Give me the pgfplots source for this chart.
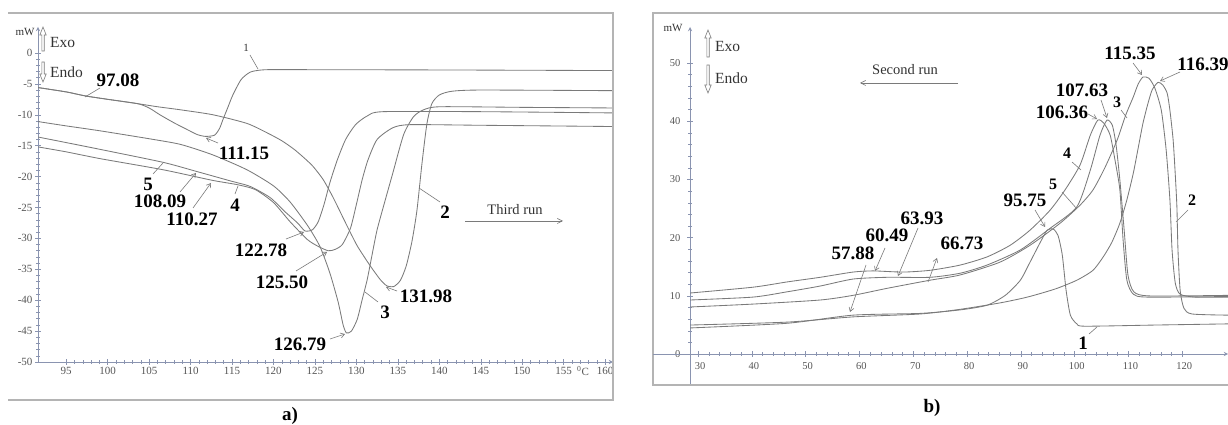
\documentclass[border=0pt]{standalone}
\usepackage{fontspec}
\setmainfont{Liberation Serif}
\usepackage{pgfplots}
\pgfplotsset{compat=1.18}
\usetikzlibrary{arrows.meta}
\definecolor{curve}{HTML}{7a7a7a}
\definecolor{axisc}{HTML}{8a94b0}
\definecolor{framec}{HTML}{b4b4b4}
\definecolor{tickc}{HTML}{555555}
\definecolor{txtc}{HTML}{333333}
\pgfplotsset{
 dscaxis/.style={scale only axis,
  axis line style={axisc,line width=0.9pt,-},
  tick style={axisc,line width=0.5pt},
  tick align=center, major tick length=6pt, minor tick length=3.5pt,
  minor x tick num=4, minor y tick num=4,
  tick label style={font=\fontsize{11}{12}\selectfont, text=tickc},
  /pgf/number format/assume math mode=true,
  every axis plot post/.append style={color=curve, line width=0.85pt, smooth, tension=0.4, mark=none}},
}
\tikzset{
 lb/.style={font=\fontsize{19}{20}\selectfont\bfseries, text=black, inner sep=0pt},
 lbs/.style={font=\fontsize{16}{17}\selectfont\bfseries, text=black, inner sep=0pt},
 ld/.style={draw=curve, line width=0.6pt},
 ldA/.style={draw=curve, line width=0.6pt, -{Straight Barb[length=4pt,width=5pt]}},
 tx/.style={text=txtc, inner sep=0pt},
}
\begin{document}
\begin{tikzpicture}[x=1pt,y=1pt]
% ---------- panel a
\begin{axis}[dscaxis, at={(38pt,63pt)}, anchor=south west,
  width=575pt, height=335pt,
  xmin=91.6, xmax=160.95, ymin=-50, ymax=4.2,
  axis x line=bottom, axis y line=left,
  xtick={95,100,...,160}, ytick={-50,-45,...,0},
  xticklabel style={yshift=1pt}, yticklabel style={xshift=1pt}]
\addplot coordinates {(91.6,-5.6) (95,-6.3) (97.3,-6.95) (100,-7.5) (103.6,-8.2) (105,-8.9) (106.3,-10.0) (108,-11.3) (109.6,-12.4) (110.8,-13.2) (111.8,-13.5) (112.9,-13.3) (113.5,-12.2) (113.9,-10.8) (114.5,-8.8) (115.1,-6.8) (116.1,-4.3) (117.2,-3.1) (118.6,-2.75) (121,-2.7) (140,-2.75) (160.9,-2.85)};
\addplot coordinates {(91.6,-5.6) (95,-6.3) (97.3,-6.95) (100,-7.5) (103.6,-8.2) (106,-8.7) (108.8,-9.2) (112.7,-10.0) (116.8,-11.4) (119.2,-12.9) (121,-14.2) (122.5,-15.6) (123.8,-17.1) (124.8,-18.4) (126,-20.5) (127.2,-23.4) (128.7,-27.5) (130.1,-31.2) (131.7,-34.5) (132.9,-36.7) (133.7,-37.7) (134.5,-37.8) (135.3,-36.8) (136.0,-34.5) (136.7,-30.5) (137.3,-25.5) (137.9,-18) (138.5,-11.5) (139.1,-8.2) (140,-6.8) (141.5,-6.2) (145,-6.0) (160.9,-6.1)};
\addplot coordinates {(91.6,-11.1) (95,-11.8) (99.1,-12.6) (105.1,-13.9) (108.8,-14.8) (112.7,-16.5) (116.8,-18.9) (120,-21.5) (122,-24.1) (124.1,-27.9) (125.6,-31.3) (126.8,-35.6) (127.8,-40.3) (128.4,-44.0) (128.8,-45.3) (129.4,-45.0) (130.1,-43.1) (130.7,-39.9) (131.3,-36.7) (131.9,-32.6) (132.5,-28.6) (133.5,-23.7) (134.4,-19.4) (135.7,-13.2) (136.9,-10.3) (138.1,-9.2) (140.1,-8.7) (150,-8.8) (160.9,-8.9)};
\addplot coordinates {(91.6,-15.2) (95,-16.0) (99.1,-17.1) (106.7,-18.9) (112.6,-20.6) (115.6,-21.3) (117.8,-22.1) (120,-24.2) (122,-27.3) (124.1,-30.2) (125.4,-31.3) (126.6,-32.0) (127.4,-31.8) (128.3,-31.0) (129.3,-28.3) (130,-24.5) (130.7,-20.5) (131.4,-17.3) (132.5,-14.0) (134.4,-12.1) (136.5,-11.6) (145,-11.7) (160.9,-11.9)};
\addplot coordinates {(91.6,-13.6) (95,-14.5) (99.1,-15.6) (106.7,-17.7) (110.8,-19.2) (114.8,-20.7) (117.2,-21.6) (119.6,-23.4) (121.4,-25.7) (122.9,-27.5) (123.8,-28.8) (124.7,-28.6) (125.4,-27.3) (126.1,-24.5) (126.8,-21.0) (127.7,-17.3) (128.7,-14.0) (129.9,-11.6) (131.3,-10.2) (133.2,-9.5) (145,-9.5) (160.9,-9.7)};
\end{axis}
% ---------- panel b: curves and y axis
\begin{axis}[dscaxis, at={(690pt,40pt)}, anchor=south west,
  width=538pt, height=358pt,
  xmin=28.5, xmax=128.5, ymin=-5.3, ymax=56.2,
  axis x line=bottom, axis y line=left, x axis line style={draw=none},
  xtick=\empty, ytick={0,10,...,50},
  yticklabel style={font=\fontsize{10.5}{12}\selectfont, xshift=-3pt}]
\addplot coordinates {(28.5,4.5) (46.5,5.3) (58.8,6.7) (71.3,7.0) (78.7,7.6) (83.7,8.4) (87.1,10.1) (89.9,12.7) (91.7,15.8) (93.6,19.2) (94.9,21.3) (96.0,21.5) (96.9,20.4) (97.7,17.0) (98.4,11.0) (99.2,6.7) (100.4,5.2) (101.9,4.8) (115,5.0) (128.5,5.2)};
\addplot coordinates {(28.5,5.0) (46.5,5.5) (58.8,6.4) (71.3,6.9) (78.7,7.7) (86.1,8.8) (91.2,9.8) (96.4,11.2) (100.4,12.7) (103.4,14.4) (105.3,16.7) (106.9,19.2) (108.4,22.5) (109.7,26.5) (110.9,31.1) (111.8,35.4) (112.7,39.7) (113.6,43.0) (114.4,45.4) (115.5,46.7) (116.4,46.2) (117.2,44.8) (117.7,41.9) (118.3,36.8) (118.7,30.8) (119.0,25.3) (119.2,17.9) (119.6,11.0) (120.3,7.9) (121.8,6.9) (128.5,6.7)};
\addplot coordinates {(28.5,8.1) (40.2,8.6) (52.7,9.3) (58.8,10.1) (65.1,11.3) (73.1,12.7) (78.7,13.6) (86.1,15.8) (91.7,18.7) (97.3,22.5) (101.0,25.6) (103.4,28.2) (105.6,32.0) (107.9,36.8) (109.5,41.1) (110.9,44.2) (111.8,46.4) (112.7,47.6) (113.8,47.4) (114.9,45.7) (116.1,41.9) (117.0,35.1) (117.7,26.5) (118.1,17.9) (118.7,12.2) (119.6,10.3) (122.4,9.8) (128.5,9.8)};
\addplot coordinates {(28.5,10.5) (40.2,11.5) (46.5,12.4) (52.7,13.2) (58.8,14.1) (62.5,14.3) (68.1,14.1) (73.1,14.4) (78.7,15.3) (83.7,16.7) (88.0,18.7) (91.7,21.3) (95.4,24.7) (98.2,28.2) (101.0,32.5) (102.9,37.6) (104.3,40.2) (105.4,39.7) (106.6,37.6) (107.5,33.3) (108.4,28.2) (109.0,19.6) (109.7,12.7) (110.9,10.3) (113.5,9.8) (128.5,9.9)};
\addplot coordinates {(28.5,9.3) (40.2,9.8) (46.5,10.7) (52.7,11.7) (58.8,12.9) (65.1,13.2) (73.1,13.2) (78.7,13.9) (83.7,15.3) (89.9,17.9) (95.4,21.6) (100.4,25.3) (102.9,31.6) (104.7,37.6) (106.0,40.2) (107.0,39.3) (107.7,35.9) (108.4,29.9) (109.2,21.3) (109.9,13.6) (111.0,10.7) (114.0,10.0) (128.5,10.1)};
\end{axis}
% ---------- panel b: x axis at y = 0
\begin{axis}[dscaxis, at={(690pt,71pt)}, anchor=south west,
  width=538pt, height=327pt,
  xmin=28.5, xmax=128.5, ymin=0, ymax=1,
  axis x line=bottom, axis y line=left, y axis line style={draw=none},
  xtick={30,40,...,120}, ytick=\empty,
  xticklabel style={font=\fontsize{10.5}{12}\selectfont, yshift=-2pt, xshift=2pt}]
\end{axis}
\begin{scope}[shift={(0,425)}, y=-1pt]
% ---------- frames
\draw[framec, line width=1.5pt] (8,13) -- (613,13) -- (613,400) -- (8,400);
\draw[framec, line width=1.5pt] (1230,13) -- (653,13) -- (653,385) -- (1230,385);
\draw[axisc, line width=0.9pt] (653,354) -- (690,354);
% ---------- panel a annotations
\node[tx, font=\fontsize{11}{12}\selectfont] at (25,32) {mW};
\draw[curve, line width=0.6pt] (41.8,51) -- (41.8,35) -- (39.8,35) -- (43,27) -- (46.2,35) -- (44.2,35) -- (44.2,51) -- cycle;
\draw[curve, line width=0.6pt] (41.8,62) -- (41.8,74) -- (39.8,74) -- (43,82) -- (46.2,74) -- (44.2,74) -- (44.2,62) -- cycle;
\node[tx, anchor=west, font=\fontsize{15.5}{16}\selectfont] at (50,43) {Exo};
\node[tx, anchor=west, font=\fontsize{15.5}{16}\selectfont] at (50,72) {Endo};
\node[lb] at (118,80) {97.08}; \draw[ld] (100,88) -- (85,97);
\node[tx, font=\fontsize{11}{12}\selectfont] at (246,48) {1}; \draw[ld] (250,55) -- (258,69);
\node[lb] at (244,153) {111.15}; \draw[ldA] (218,143) -- (206,138);
\node[lb] at (148,184) {5}; \draw[ld] (153,174) -- (163,163);
\node[lb] at (160,201) {108.09}; \draw[ldA] (180,192) -- (196,173);
\node[lb] at (192,219) {110.27}; \draw[ldA] (193,208) -- (211,183);
\node[lb] at (235,205) {4}; \draw[ld] (235,194) -- (238,186);
\node[lb] at (261,250) {122.78}; \draw[ldA] (286,239) -- (304,232);
\node[lb] at (282,282) {125.50}; \draw[ldA] (296,271) -- (327,252);
\node[lb] at (300,344) {126.79}; \draw[ldA] (330,339) -- (345,334);
\node[lb] at (385,312) {3}; \draw[ld] (378,302) -- (365,292);
\node[lb] at (426,296) {131.98}; \draw[ldA] (397,291) -- (386,287);
\node[lb] at (445,212) {2}; \draw[ld] (440,202) -- (419,188);
\node[tx, font=\fontsize{14.5}{15}\selectfont] at (515,210) {Third run};
\draw[curve, line width=0.6pt, -{Straight Barb[length=5pt,width=5pt]}] (465,221) -- (563,221);
\node[tx, font=\fontsize{11}{12}\selectfont, text=tickc] at (583,371) {\textsuperscript{0}C};
\node[lb] at (290,416) {a)};
% ---------- panel b annotations
\node[tx, font=\fontsize{11}{12}\selectfont] at (673,28) {mW};
\draw[curve, line width=0.6pt] (706.8,57) -- (706.8,38) -- (704.8,38) -- (708,30) -- (711.2,38) -- (709.2,38) -- (709.2,57) -- cycle;
\draw[curve, line width=0.6pt] (706.8,65) -- (706.8,85) -- (704.8,85) -- (708,93) -- (711.2,85) -- (709.2,85) -- (709.2,65) -- cycle;
\node[tx, anchor=west, font=\fontsize{15.5}{16}\selectfont] at (715,47) {Exo};
\node[tx, anchor=west, font=\fontsize{15.5}{16}\selectfont] at (715,78) {Endo};
\node[tx, font=\fontsize{14.5}{15}\selectfont] at (905,70) {Second run};
\draw[curve, line width=0.6pt, -{Straight Barb[length=5pt,width=5pt]}] (958,83) -- (860,83);
\node[lb] at (1130,53) {115.35}; \draw[ldA] (1133,63) -- (1142,75);
\node[lb] at (1203,64) {116.39}; \draw[ldA] (1180,72) -- (1160,81);
\node[lb] at (1082,90) {107.63}; \draw[ldA] (1101,100) -- (1107,118);
\node[lbs] at (1117,102) {3}; \draw[ld] (1121,110) -- (1127,118);
\node[lb] at (1062,112) {106.36}; \draw[ldA] (1088,114) -- (1097,119);
\node[lbs] at (1067,153) {4}; \draw[ld] (1072,162) -- (1081,170);
\node[lbs] at (1053,184) {5}; \draw[ld] (1062,192) -- (1077,209);
\node[lb] at (1025,200) {95.75}; \draw[ldA] (1035,210) -- (1045,227);
\node[lbs] at (1192,200) {2}; \draw[ld] (1188,210) -- (1176,222);
\node[lb] at (1083,343) {1}; \draw[ld] (1089,334) -- (1097,327);
\node[lb] at (922,218) {63.93}; \draw[ldA] (918,228) -- (898,276);
\node[lb] at (887,235) {60.49}; \draw[ldA] (885,248) -- (875,271);
\node[lb] at (853,253) {57.88}; \draw[ldA] (866,265) -- (850,312);
\node[lb] at (962,243) {66.73}; \draw[ldA] (928,282) -- (937,258);
\node[lb] at (932,408) {b)};
\end{scope}
\pgfresetboundingbox
\useasboundingbox (0,0) rectangle (1228,425);
\end{tikzpicture}
\end{document}
